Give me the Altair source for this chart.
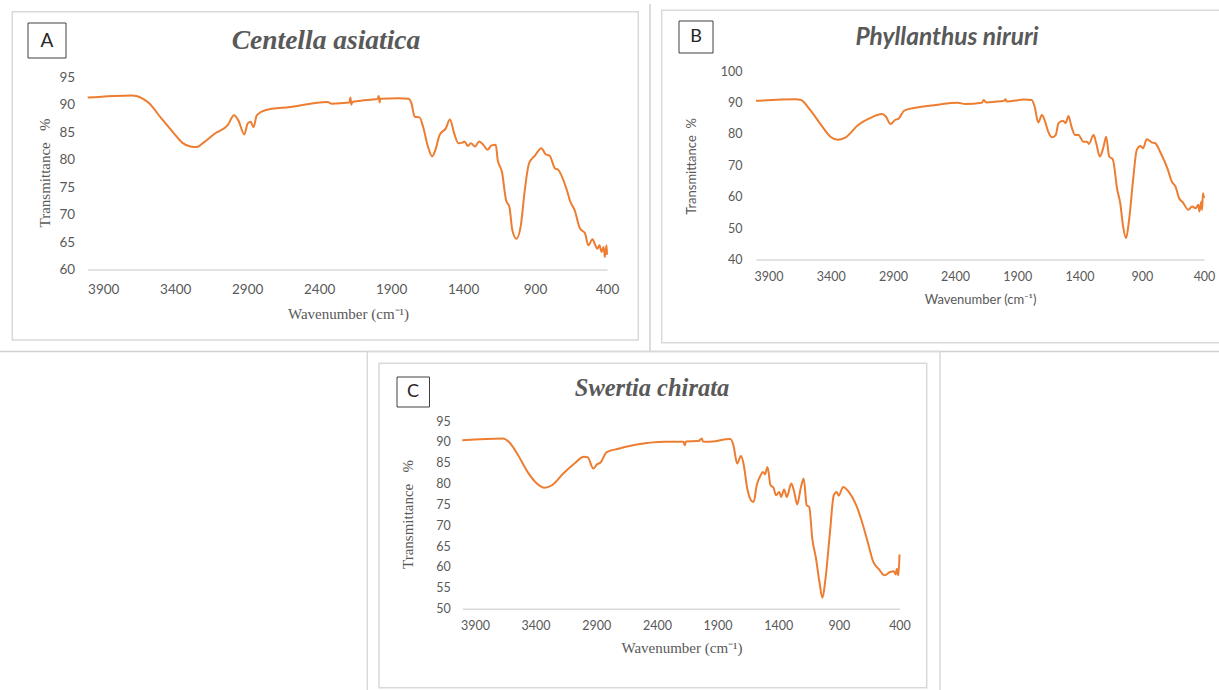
import altair as alt
import pandas as pd

# ---------------- data ----------------
X_TICKS = [3900, 3400, 2900, 2400, 1900, 1400, 900, 400]

A_WN = [4008, 3700, 3670, 3583, 3496, 3409, 3352, 3294, 3251, 3208,
        3121, 3035, 2991, 2962, 2920, 2896, 2876, 2856, 2833, 2775,
        2602, 2342, 2313, 2190, 2183, 2176, 2170, 2111, 1996, 1985,
        1980, 1975, 1851, 1779, 1759, 1736, 1702, 1678, 1644, 1615,
        1592, 1563, 1520, 1491, 1462, 1433, 1404, 1390, 1367, 1346,
        1317, 1288, 1259, 1231, 1202, 1173, 1159, 1130, 1101, 1078,
        1058, 1029, 1000, 971, 942, 899, 856, 827, 798, 761,
        741, 683, 654, 625, 588, 553, 530, 501, 481, 467,
        452, 438, 424, 415, 403, 400]
A_T = [91.3, 91.7, 91.6, 90.3, 87.5, 84.8, 83.1, 82.4, 82.3, 83.0,
       84.8, 86.3, 88.1, 87.2, 84.6, 86.6, 86.9, 85.9, 88.1, 89.0,
       89.6, 90.5, 90.2, 90.4, 91.3, 90.0, 90.5, 90.75, 91.05, 91.6,
       90.4, 91.1, 91.2, 91.1, 90.3, 87.8, 87.7, 86.0, 82.4, 80.6,
       81.8, 84.5, 85.7, 87.3, 84.8, 83.0, 83.1, 83.3, 82.5, 83.0,
       82.4, 83.3, 82.7, 81.8, 82.6, 82.7, 79.9, 77.8, 72.6, 71.4,
       67.2, 65.6, 67.8, 74.5, 79.3, 80.8, 82.1, 81.0, 80.7, 78.4,
       78.2, 74.8, 72.3, 70.8, 67.5, 66.6, 64.4, 65.5, 64.4, 63.8,
       64.4, 63.2, 64.1, 62.3, 64.4, 62.7]

B_WN = [4000, 3683, 3639, 3565, 3476, 3402, 3342, 3283, 3179, 3090,
        2986, 2957, 2918, 2883, 2853, 2809, 2705, 2556, 2378, 2319,
        2186, 2170, 2150, 2082, 2008, 1995, 1985, 1845, 1785, 1761,
        1732, 1702, 1681, 1652, 1622, 1592, 1569, 1533, 1512, 1489,
        1465, 1435, 1406, 1394, 1370, 1340, 1325, 1287, 1266, 1237,
        1207, 1186, 1162, 1133, 1097, 1073, 1050, 1026, 1002, 970,
        940, 910, 890, 860, 821, 792, 747, 694, 659, 629,
        600, 570, 526, 496, 467, 446, 437, 422, 416, 408,
        400]
B_T = [90.5, 91.0, 90.8, 87.6, 82.8, 79.1, 78.1, 78.8, 82.8, 84.9,
       86.3, 85.5, 83.1, 84.4, 84.9, 87.4, 88.4, 89.2, 89.9, 89.5,
       89.9, 90.8, 90.0, 90.2, 90.5, 91.0, 90.3, 90.9, 90.8, 88.7,
       83.6, 86.0, 84.4, 80.7, 78.9, 79.6, 83.4, 84.2, 83.4, 85.7,
       82.3, 79.6, 79.6, 78.9, 77.5, 77.5, 76.8, 79.6, 77.0, 72.8,
       75.9, 79.1, 72.8, 71.9, 62.2, 57.9, 50.5, 46.8, 52.6, 65.3,
       74.9, 76.1, 75.4, 78.3, 77.3, 77.0, 73.8, 69.0, 64.8, 63.2,
       59.5, 58.2, 55.8, 56.9, 56.3, 57.4, 55.3, 58.4, 55.8, 61.1,
       59.5]

C_WN = [4004, 3668, 3621, 3544, 3466, 3389, 3327, 3265, 3172, 3079,
        3002, 2971, 2924, 2893, 2862, 2816, 2708, 2553, 2336, 2181,
        2170, 2160, 2057, 2030, 2020, 1980, 1794, 1769, 1738, 1707,
        1686, 1655, 1624, 1602, 1577, 1546, 1525, 1509, 1488, 1463,
        1438, 1419, 1391, 1376, 1351, 1329, 1292, 1268, 1243, 1215,
        1190, 1165, 1144, 1119, 1088, 1060, 1035, 1010, 973, 942,
        917, 901, 864, 818, 756, 709, 662, 616, 570, 523,
        477, 446, 431, 421, 409, 400]
C_T = [90.4, 90.8, 90.0, 86.8, 82.8, 80.0, 79.0, 79.6, 82.4, 84.8,
       86.4, 86.3, 83.6, 84.6, 85.1, 87.5, 88.4, 89.4, 90.0, 90.0,
       89.2, 90.1, 90.2, 90.8, 90.1, 90.0, 90.7, 89.2, 84.8, 86.6,
       84.8, 78.8, 76.0, 75.6, 79.6, 81.9, 82.8, 82.2, 84.0, 79.6,
       79.0, 77.2, 78.0, 76.8, 78.6, 76.8, 80.0, 78.0, 75.0, 78.8,
       81.2, 74.8, 74.4, 66.8, 62.0, 56.4, 52.6, 57.2, 68.4, 77.2,
       78.0, 77.1, 79.2, 78.0, 74.8, 70.8, 66.0, 61.2, 59.5, 58.0,
       58.8, 59.0, 58.2, 59.6, 58.0, 63.0]

A_Y_TICKS = [60, 65, 70, 75, 80, 85, 90, 95]
B_Y_TICKS = [40, 50, 60, 70, 80, 90, 100]
C_Y_TICKS = [50, 55, 60, 65, 70, 75, 80, 85, 90, 95]

TITLES = ["Centella asiatica", "Phyllanthus niruri", "Swertia chirata"]
LETTERS = ["A", "B", "C"]
X_TITLE = "Wavenumber (cm\u207b\u00b9)"
Y_TITLE_SERIF = "Transmittance\u00a0\u00a0\u00a0%"
Y_TITLE_SANS = "Transmittance\u00a0\u00a0%"

# ---------------- styling ----------------
W, H = 1219, 690
ORANGE = "#ED7D31"
GRAY = "#595959"
FRAME = "#d9d9d9"
SANS = "Lato"
SERIF = "Liberation Serif"

one = alt.Data(values=[{}])


def rect(x1, y1, x2, y2, stroke=FRAME, sw=1.5, fill="white", fo=0):
    return alt.Chart(one).mark_rect(fill=fill, fillOpacity=fo, stroke=stroke,
                                    strokeWidth=sw).encode(
        x=alt.value(x1), x2=alt.value(x2), y=alt.value(y1), y2=alt.value(y2))


def rule(x1, y1, x2, y2, color="#d0d0d0", sw=1.5):
    return alt.Chart(one).mark_rule(color=color, strokeWidth=sw).encode(
        x=alt.value(x1), x2=alt.value(x2), y=alt.value(y1), y2=alt.value(y2))


def text(s, x, y, size, font, color=GRAY, weight="normal", style="normal"):
    return alt.Chart(one).mark_text(
        text=s, font=font, fontSize=size, fontWeight=weight, fontStyle=style,
        color=color, align="center", baseline="middle").encode(
        x=alt.value(x), y=alt.value(y))


def panel(wn, t, xdom, xr, ydom, yr, yticks, label_size, lpx,
          tfont, tsize, ytitle, ytx, yty, xtx, xty, ylp):
    df = pd.DataFrame({"wn": wn, "t": t})
    return alt.Chart(df).mark_line(color=ORANGE, strokeWidth=2,
                                   interpolate="monotone").encode(
        x=alt.X("wn:Q",
                scale=alt.Scale(domain=xdom, range=xr, nice=False, zero=False),
                axis=alt.Axis(orient="bottom", offset=yr[0] - H, values=X_TICKS,
                              zindex=1,
                              grid=False, ticks=False, tickSize=0, domain=True,
                              domainColor=FRAME, domainWidth=1.5,
                              labelFont=SANS, labelFontSize=label_size,
                              labelColor=GRAY, labelPadding=lpx, labelFlush=False,
                              format="d",
                              title=X_TITLE, titleFont=tfont, titleFontSize=tsize,
                              titleFontWeight="normal", titleColor=GRAY,
                              titleX=xtx, titleY=xty - yr[0],
                              titleBaseline="middle", titleAlign="center")),
        y=alt.Y("t:Q",
                scale=alt.Scale(domain=ydom, range=yr, nice=False, zero=False),
                axis=alt.Axis(orient="left", offset=-xr[0], values=yticks,
                              zindex=1,
                              grid=False, ticks=False, tickSize=0, domain=False,
                              labelFont=SANS, labelFontSize=label_size,
                              labelColor=GRAY, labelPadding=ylp,
                              title=ytitle, titleFont=tfont, titleFontSize=tsize,
                              titleFontWeight="normal", titleColor=GRAY,
                              titleAngle=270, titleX=ytx - xr[0], titleY=yty,
                              titleBaseline="middle", titleAlign="center")),
    )


pA = panel(A_WN, A_T, [4008, 400], [87.7, 607], [60, 95], [269.5, 77.3],
           A_Y_TICKS, 13.5, 12.5, SERIF, 15, Y_TITLE_SERIF, 45, 172.5, 348, 313, 13)
pB = panel(B_WN, B_T, [4000, 400], [756, 1204], [40, 100], [259.5, 71],
           B_Y_TICKS, 12.5, 11, SANS, 13, Y_TITLE_SANS, 691, 166, 980, 299, 14)
pC = panel(C_WN, C_T, [4004, 400], [462.3, 899.5], [50, 95], [608.7, 421],
           C_Y_TICKS, 12.5, 10.5, SERIF, 15, Y_TITLE_SERIF, 407, 514, 681.5, 647.5, 12)

layers = [
    rule(650, 4, 650, 351.5),
    rule(0, 351.5, W, 351.5),
    rect(12.3, 11.7, 638.3, 340),
    rect(661.7, 10.3, W + 5, 342.7),
    rect(367.3, 351.5, 940, H + 5),
    rect(379, 363.3, 926.7, 687.7),
    pA, pB, pC,
    rect(28, 23, 66, 58, stroke="#404040", sw=1, fo=1),
    rect(679, 21, 713, 53, stroke="#404040", sw=1, fo=1),
    rect(397, 377, 429.5, 407, stroke="#404040", sw=1, fo=1),
    text(LETTERS[0], 47, 40.5, 19, SANS, color="#262626"),
    text(LETTERS[1], 696, 37, 18, SANS, color="#262626"),
    text(LETTERS[2], 413, 392, 18, SANS, color="#262626"),
    text(TITLES[0], 326, 41, 27.5, SERIF, weight="bold", style="italic"),
    text(TITLES[1], 947, 38, 24.5, SANS, weight="bold", style="italic"),
    text(TITLES[2], 652, 389, 24.5, SERIF, weight="bold", style="italic"),
]

chart = alt.layer(*layers).resolve_scale(
    x="independent", y="independent"
).resolve_axis(
    x="independent", y="independent"
).properties(
    width=W, height=H, autosize=alt.AutoSizeParams(type="none"), padding=0,
    background="white"
).configure_view(strokeWidth=0)

chart.save("out.html", embed_options={"renderer": "svg", "actions": False})
